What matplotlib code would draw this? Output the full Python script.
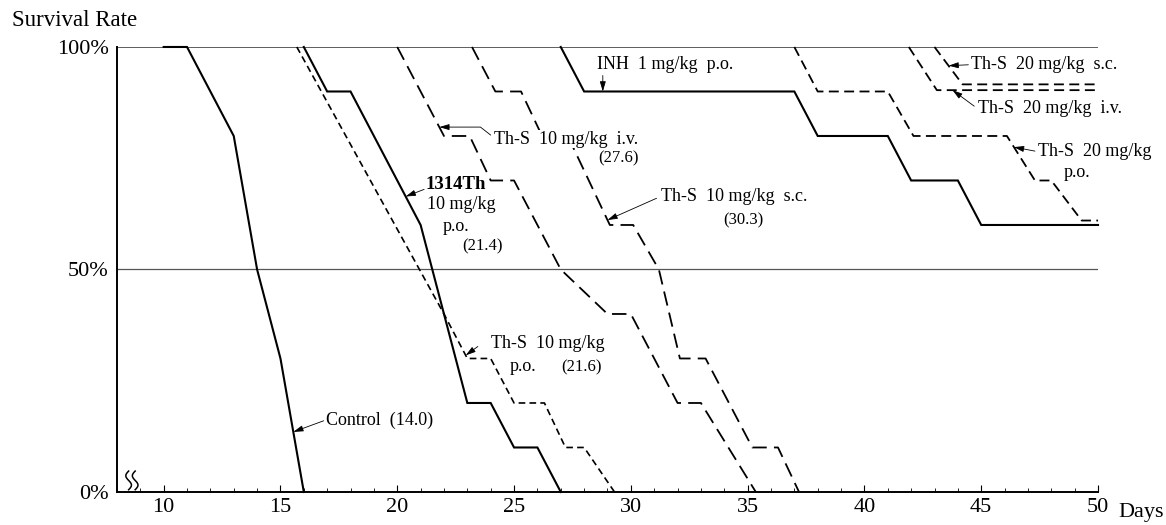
import numpy as np
import matplotlib
matplotlib.use("Agg")
import matplotlib.pyplot as plt

plt.rcParams["font.family"] = ["Liberation Serif", "DejaVu Serif"]

# survival curves: days, survival (%)
control_days = [10, 11, 13, 14, 15, 16]
control_surv = [100, 100, 80, 50, 30, 0]

th1314_days = [16, 17, 18, 21, 23, 24, 25, 26, 27]
th1314_surv = [100, 90, 90, 60, 20, 20, 10, 10, 0]

ths10_po_days = [15.7, 22, 23, 24, 25, 26.3, 27.2, 28, 29.3]
ths10_po_surv = [100, 40, 30, 30, 20, 20, 10, 10, 0]

ths10_iv_days = [20, 22, 23.1, 24, 25, 27, 29, 30, 32, 33, 35.35]
ths10_iv_surv = [100, 80, 80, 70, 70, 50, 40, 40, 20, 20, 0]

ths10_sc_days = [23.2, 24.2, 25.3, 26.2, 27.3, 29.1, 30.1, 31.2, 32.1, 33.2, 35.2, 36.3, 37.2]
ths10_sc_surv = [100, 90, 90, 80, 80, 60, 60, 50, 30, 30, 10, 10, 0]

inh_days = [27, 28, 37, 38, 41, 42, 44, 45, 50]
inh_surv = [100, 90, 90, 80, 80, 70, 70, 60, 60]

ths20_po_days = [37, 38, 41, 42.1, 46.1, 47.3, 48, 49.3, 50]
ths20_po_surv = [100, 90, 90, 80, 80, 70, 70, 61, 61]

ths20_iv_days = [41.9, 43.1, 50]
ths20_iv_surv = [100, 90.3, 90.3]

ths20_sc_days = [43, 44.2, 50]
ths20_sc_surv = [100, 91.6, 91.6]

x_ticks = [10, 15, 20, 25, 30, 35, 40, 45, 50]
y_ticks = [0, 50, 100]
y_tick_labels = ["0%", "50%", "100%"]

fig = plt.figure(figsize=(11.66, 5.25), dpi=100)
ax = fig.add_axes([0.1003, 0.0629, 0.8414, 0.8476])

solid = dict(color="black", lw=1.5, clip_on=False, solid_joinstyle="miter")
long_dash = dict(color="black", lw=1.3, ls=(0, (8, 4)), clip_on=False)
short_dash = dict(color="black", lw=1.2, ls=(0, (4, 2.5)), clip_on=False)
mid_dash = dict(color="black", lw=1.3, ls=(0, (5.5, 3)), clip_on=False)

ax.plot(control_days, control_surv, **solid)
ax.plot(th1314_days, th1314_surv, **solid)
ax.plot(inh_days, inh_surv, **solid)
ax.plot(ths10_po_days, ths10_po_surv, **short_dash)
ax.plot(ths10_iv_days, ths10_iv_surv, **long_dash)
ax.plot(ths10_sc_days, ths10_sc_surv, **long_dash)
ax.plot(ths20_po_days, ths20_po_surv, **mid_dash)
ax.plot(ths20_iv_days, ths20_iv_surv, **mid_dash)
ax.plot(ths20_sc_days, ths20_sc_surv, **mid_dash)

# frame: left + bottom spines, thin lines at 100% and 50%
ax.set_xlim(8, 50)
ax.set_ylim(0, 100)
for side in ["top", "right"]:
    ax.spines[side].set_visible(False)
ax.spines["left"].set_linewidth(1.4)
ax.spines["bottom"].set_linewidth(1.4)
ax.axhline(100, color="#333333", lw=1.1, zorder=1)
ax.axhline(50, color="#555555", lw=0.9, zorder=1)

ax.set_xticks(x_ticks)
ax.set_xticks(range(9, 51), minor=True)
ax.tick_params(axis="x", which="major", direction="in", length=5, width=0.8,
               labelsize=16, pad=4)
ax.tick_params(axis="x", which="minor", direction="in", length=3, width=0.6)
ax.set_yticks(y_ticks)
ax.set_yticklabels(y_tick_labels)
ax.tick_params(axis="y", length=0, labelsize=16, pad=6)

# axis break squiggle near the origin
t = np.linspace(0, 2 * np.pi, 60)
for x0 in (8.5, 8.78):
    ax.plot(x0 + 0.12 * np.sin(t), 0.5 + 4.2 * t / (2 * np.pi), color="black",
            lw=1.1, clip_on=False)

fig.text(12 / 1166, 1 - 20 / 525, "Survival Rate", fontsize=16.5, va="center")
fig.text(1118 / 1166, 1 - 512 / 525, "Days", fontsize=16, va="center")


def y_on(days, surv, x):
    return np.interp(x, days, surv)


arrow = dict(arrowstyle="-|>,head_length=0.6,head_width=0.18", color="black",
             lw=0.6, shrinkA=0, shrinkB=0)
bg = dict(facecolor="white", edgecolor="none", pad=0.5)


def label(x, y, s, size=13, **kw):
    ax.text(x, y, s, bbox=bg, fontsize=size, va="center", ha="left",
            clip_on=False, **kw)


def point(tip_x, days, surv, x0, y0, style="arc3"):
    ax.annotate("", xy=(tip_x, y_on(days, surv, tip_x)), xytext=(x0, y0),
                arrowprops=dict(arrow, connectionstyle=style), annotation_clip=False)


# Control
label(16.95, 16, "Control  (14.0)")
point(15.55, control_days, control_surv, 16.85, 16)

# 1314Th
label(21.22, 69, "1314Th", size=13.5, fontweight="bold")
label(21.29, 64.5, "10 mg/kg")
label(21.93, 59.6, "p.o.")
label(22.79, 55.1, "(21.4)", size=12)
point(20.36, th1314_days, th1314_surv, 21.15, 68)

# Th-S 10 mg/kg i.v.
label(24.13, 79.3, "Th-S  10 mg/kg  i.v.")
label(28.59, 75, "(27.6)", size=12)
point(21.8, ths10_iv_days, ths10_iv_surv, 24.0, 80.2,
      style="angle,angleA=142,angleB=0,rad=0")

# Th-S 10 mg/kg s.c.
label(31.28, 66.3, "Th-S  10 mg/kg  s.c.")
label(33.94, 61.1, "(30.3)", size=12)
point(29.0, ths10_sc_days, ths10_sc_surv, 31.1, 66)

# INH
label(28.57, 96, "INH  1 mg/kg  p.o.")
point(28.8, inh_days, inh_surv, 28.8, 93.6)

# Th-S 10 mg/kg p.o.
label(24.0, 33.4, "Th-S  10 mg/kg")
label(24.82, 28.1, "p.o.")
label(27.0, 28.1, "(21.6)", size=12)
point(22.93, ths10_po_days, ths10_po_surv, 23.45, 32.7)

# Th-S 20 mg/kg s.c.
label(44.56, 96, "Th-S  20 mg/kg  s.c.")
point(43.6, ths20_sc_days, ths20_sc_surv, 44.45, 96)

# Th-S 20 mg/kg i.v.
label(44.86, 86.2, "Th-S  20 mg/kg  i.v.")
point(43.77, ths20_iv_days, ths20_iv_surv, 44.7, 86.7)

# Th-S 20 mg/kg p.o.
label(47.43, 76.5, "Th-S  20 mg/kg")
label(48.54, 71.7, "p.o.")
point(46.4, ths20_po_days, ths20_po_surv, 47.3, 76.6)

fig.savefig("out.png", dpi=100)
